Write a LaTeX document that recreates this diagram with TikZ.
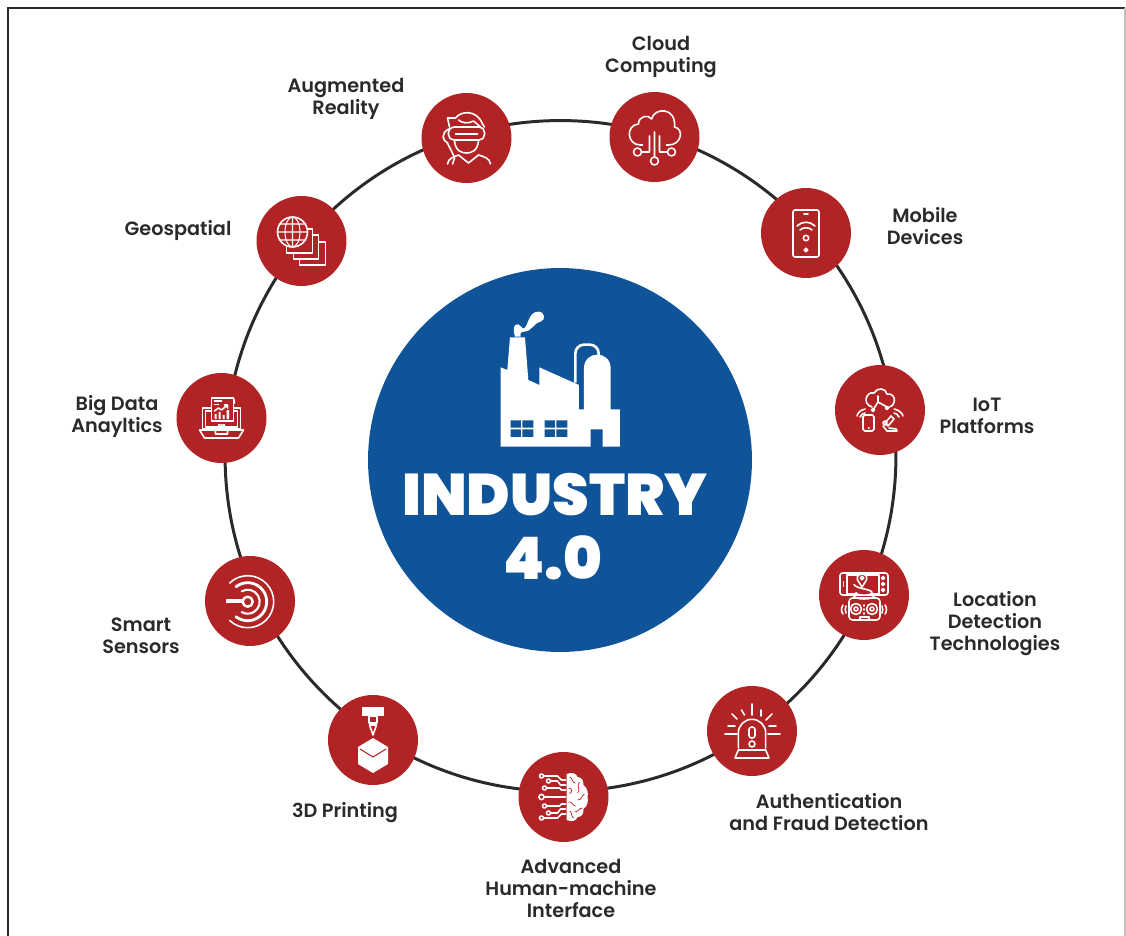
\documentclass[tikz,border=0pt]{standalone}
\usepackage{fontspec}
\setmainfont{Poppins SemiBold}
\newfontfamily\titlefont{Poppins Black}
\definecolor{hubred}{HTML}{B22325}
\definecolor{corebg}{HTML}{0F5398}
\definecolor{inkgray}{HTML}{2B2A2B}
\tikzset{
  hub/.style={circle, fill=hubred, minimum size=1.8cm, inner sep=0pt},
  hublabel/.style={align=center, text=inkgray, font=\fontsize{10.95}{12.5}\selectfont, inner sep=0pt},
  titletext/.style={text=white, font=\titlefont, inner sep=0pt},
  iconline/.style={draw=white, line width=0.9pt, line cap=round, line join=round},
  iconfill/.style={fill=white, draw=none},
  % icons, drawn around the centre of a hub
  cloudicon/.pic={
    \draw[iconline] (-12,8) -- (-14,8) .. controls (-28,8) and (-29,-12) .. (-16,-13)
      .. controls (-16,-21) and (-6,-23) .. (-3,-18) .. controls (0,-30) and (22,-30) .. (20,-10)
      .. controls (30,-8) and (27,8) .. (14,8) -- (12,8);
    \draw[iconline] (0,-5) -- (0,20) (0,24) circle[radius=4];
    \draw[iconline] (-5,-1) -- (-5,15) -- (-13,15) (-17,15) circle[radius=4];
    \draw[iconline] (5,-1) -- (5,15) -- (13,15) (17,15) circle[radius=4];
  },
  vricon/.pic={
    \draw[iconline, rounded corners=3pt] (-18,-11) rectangle (18,2);
    \draw[iconline] (-11,-4) -- (11,-4);
    \draw[iconline] (-12,3) .. controls (-11,13) and (-5,15) .. (0,15) .. controls (5,15) and (11,13) .. (12,3);
    \draw[iconline] (-17,-11) -- (-19,-20) -- (-11,-20) .. controls (-6,-27) and (10,-29) .. (16,-14) -- (18,-11);
    \draw[iconline] (-8,-18) .. controls (-5,-15) and (2,-14) .. (7,-17) -- (14,-11);
    \draw[iconline] (-18,-9) .. controls (-26,-4) and (-24,2) .. (-19,5) .. controls (-17,10) and (-14,14) .. (-12,20) -- (-14,26);
    \draw[iconline] (-19,26) .. controls (-18,20) and (-13,19) .. (-8,17) -- (2,25) -- (12,17)
      .. controls (18,19) and (23,20) .. (24,26);
  },
  phoneicon/.pic={
    \draw[iconline, rounded corners=1.2pt] (-13,-23) rectangle (13,24);
    \draw[iconline] (-2,-19) -- (2,-19);
    \draw[iconline] (-9,-7) .. controls (-4,-12) and (4,-12) .. (9,-7);
    \draw[iconline] (-6,-3) .. controls (-3,-6) and (3,-6) .. (6,-3);
    \draw[iconline] (0,5) circle[radius=2.7] (0,17) circle[radius=1.8];
  },
  ioticon/.pic={
    \draw[iconline] (-8,-3) .. controls (-18,-6) and (-14,-19) .. (-6,-17)
      .. controls (-3,-23) and (6,-22) .. (7,-16) .. controls (17,-17) and (16,-4) .. (9,-3);
    \draw[iconline] (-7,0) -- (-2,-8) -- (7,-3) (-2,-8) -- (-2,-14);
    \draw[iconline] (-7,0) circle[radius=1.6] (7,-2) circle[radius=1.6];
    \draw[iconline, rounded corners=1pt] (-17,5) rectangle (-6,21);
    \draw[iconline] (-11.5,18) -- (-11,18);
    \draw[iconline] (-23,6) .. controls (-22,2) and (-19,0) .. (-15,-1);
    \draw[iconline] (-20,7) .. controls (-19,5) and (-17,3) .. (-15,3);
    \draw[iconline] (23,6) .. controls (22,2) and (18,0) .. (14,-1);
    \draw[iconline] (19,7) .. controls (18,5) and (16,3) .. (14,3);
    \draw[iconline] (8,16) -- (14,9) -- (11,6) -- (5,13) -- (8,16) (9,18) -- (16,19) -- (17,21) -- (7,21) -- (3,16);
    \draw[iconline] (5,13) circle[radius=2];
  },
  locationicon/.pic={
    \draw[iconline, rounded corners=1.5pt] (-24,-22) rectangle (24,0);
    \draw[iconline] (-17,-20) rectangle (15,-1);
    \draw[iconline] (-20.5,-13) -- (-20.5,-9);
    \draw[iconline] (19,-17) circle[radius=1.5] (19,-11) circle[radius=1.5] (19,-5) circle[radius=1.5];
    \draw[iconline, fill=hubred] (-2,-8) ++(-8,-2.5) .. controls (-8,-6) and (8,-6) .. (8,-2.5)
      .. controls (8,1) and (-8,1) .. (-8,-2.5);
    \draw[iconline, fill=hubred] (-2,-8) -- (-6.5,-15) .. controls (-9,-23) and (5,-23) .. (2.5,-15) -- cycle;
    \draw[iconline] (-2,-17) circle[radius=1.8];
    \draw[iconline, rounded corners=2pt] (-15,3) rectangle (16,25);
    \draw[iconline] (-10,0) -- (-10,1) .. controls (-8,5) and (8,5) .. (10,1) -- (10,0);
    \draw[iconline] (-8,14) circle[radius=5.5] (-8,14) circle[radius=2];
    \draw[iconline] (8,14) circle[radius=5.5] (8,14) circle[radius=2];
    \draw[iconline] (0,10) -- (0,11) (0,14) -- (0,15) (0,18) -- (0,19);
    \draw[iconline] (-4,25) -- (-4,22) -- (5,22) -- (5,25);
    \draw[iconline] (-21,10) .. controls (-23,13) and (-23,16) .. (-21,19);
    \draw[iconline] (-18,11) .. controls (-19,13) and (-19,16) .. (-18,18);
    \draw[iconline] (21,10) .. controls (23,13) and (23,16) .. (21,19);
    \draw[iconline] (18,11) .. controls (19,13) and (19,16) .. (18,18);
  },
  alarmicon/.pic={
    \draw[iconline] (-13.7,17) -- (-13.7,2) arc[start angle=180, end angle=360, radius=13.7] -- (13.7,17);
    \draw[iconline] (-13.7,19) -- (13.7,19) -- (17,27) -- (-17,27) -- cycle;
    \draw[iconline, rounded corners=1.5pt] (-3,-4) rectangle (3,7);
    \draw[iconline] (0,13) circle[radius=3];
    \draw[iconline] (0,-27) -- (0,-16) (-10.5,-21) -- (-7.5,-16) (9,-21) -- (9,-15)
      (-20,-17) -- (-15,-12) (20,-17) -- (14,-11) (-24,-5) -- (-17,-5) (17,-5) -- (24,-5)
      (-27,3) -- (-15,3) (16,3) -- (28,3);
  },
  brainicon/.pic={
    \path[iconfill] (3,-23) .. controls (8,-25) and (13,-24) .. (14,-20) .. controls (19,-20) and (20,-15) .. (20,-12)
      .. controls (24,-9) and (25,-4) .. (24,0) .. controls (25,4) and (24,9) .. (20,12)
      .. controls (20,16) and (19,20) .. (14,20) .. controls (13,24) and (8,25) .. (3,23) -- cycle;
    \draw[draw=hubred, line width=0.4pt] (6,-20) .. controls (10,-19) and (8,-14) .. (12,-14)
      (16,-15) .. controls (12,-10) and (18,-8) .. (14,-4) (5,-9) .. controls (9,-9) and (9,-5) .. (6,-3)
      (21,-3) .. controls (17,-1) and (19,3) .. (14,3) (5,5) .. controls (9,4) and (9,9) .. (12,9)
      (19,11) .. controls (15,11) and (15,15) .. (11,15) (6,14) .. controls (9,15) and (7,19) .. (10,21);
    \foreach \s in {1,-1} {
      \draw[iconline] (-19,-21*\s) -- (-6,-21*\s) -- (-2,-17*\s) -- (2,-17*\s);
      \draw[iconline] (-22,-21*\s) circle[radius=2];
      \draw[iconline] (-12.5,-16*\s) -- (-6,-16*\s) -- (-3,-12*\s) -- (2,-12*\s);
      \draw[iconline] (-15,-16*\s) circle[radius=2];
      \draw[iconline] (-16.5,-9*\s) -- (-4,-9*\s) -- (-2,-7*\s) -- (2,-7*\s);
      \draw[iconline] (-19,-9*\s) circle[radius=2];
    }
    \draw[iconline] (-19,0) -- (2,0) (-22,0) circle[radius=2.6];
  },
  printicon/.pic={
    \path[iconfill] (-11,-33) rectangle (11,-24);
    \draw[iconline] (-4,-24) rectangle (4,-17);
    \draw[iconline] (-3.5,-15) -- (3.5,-15) -- (0,-5) -- cycle;
    \path[iconfill] (0,-2) -- (15,7) -- (15,24) -- (0,33) -- (-15,24) -- (-15,7) -- cycle;
    \draw[draw=hubred, line width=0.6pt] (-13,9) -- (0,17) -- (13,9);
  },
  sensoricon/.pic={
    \draw[iconline, line cap=butt, line width=2.2pt] (-24,0) -- (-8,0);
    \draw[iconline, line width=1.4pt] (-2.3,0.7) circle[radius=5];
    \draw[iconline, line width=1.2pt] (-2.3,0.7) ++(-120:12) arc[start angle=-120, end angle=120, radius=12];
    \draw[iconline, line width=1.6pt] (-2.3,0.7) ++(-128:19) arc[start angle=-128, end angle=128, radius=19];
    \draw[iconline] (-2.3,0.7) ++(-134:26) arc[start angle=-134, end angle=134, radius=26];
  },
  reporticon/.pic={
    \draw[iconline] (-19,-10) rectangle (19,11);
    \draw[iconline] (-16,-7) rectangle (16,9);
    \draw[iconline] (-22,12) -- (22,12) -- (17,20) -- (-17,20) -- cycle (-6,12) -- (-6,16) -- (6,16) -- (6,12);
    \draw[iconline, fill=hubred] (-10,-20) rectangle (12,3);
    \draw[iconline] (12,-20) -- (13,-15);
    \draw[iconline] (-7,-17) -- (0,-17) (-7,-13.5) -- (-3,-13.5);
    \draw[iconline] (-7,-7) -- (-3,-10) -- (0,-8) -- (6,-13) (3,-13) -- (6,-13) -- (6,-10);
    \path[iconfill] (-7,-4) rectangle (-5,1) (-3,-6) rectangle (-1,1) (1,-3) rectangle (3,1) (5,-8) rectangle (7.5,1);
    \path[iconfill] (-3.5,6) rectangle (-1.5,8) (-1,6) rectangle (1,8) (1.5,6) rectangle (3.5,8);
  },
  globeicon/.pic={
    \draw[iconline, line width=0.6pt, fill=hubred] (-2,1) rectangle (24,24);
    \draw[iconline, line width=0.6pt, fill=hubred] (-8,-6) rectangle (17,18);
    \draw[iconline, line width=0.6pt, fill=hubred] (-15,-12) rectangle (11,12);
    \draw[iconline, fill=hubred] (-9,-9) circle[radius=15];
    \draw[iconline, line width=0.6pt] (-9,-24) -- (-9,6) (-24,-9) -- (6,-9)
      (-22,-17) -- (4,-17) (-22,-1) -- (4,-1) (-9,-9) ellipse[x radius=7.5, y radius=15];
  },
  factoryicon/.pic={
    % traced at 3x, hence the scale
    \begin{scope}[scale=0.3333]
    \path[iconfill] (302,232) -- (322,240) -- (330,142) -- (375,142) -- (385,270) -- (418,285) -- (418,232)
      -- (537,285) -- (537,358) -- (552,358) -- (552,235) .. controls (552,180) and (632,180) .. (632,235)
      -- (632,358) -- (660,358) -- (660,470) -- (608,470) -- (608,418) -- (572,418) -- (572,470) -- (302,470) -- cycle;
    \path[iconfill] (345,140) .. controls (338,120) and (340,100) .. (355,103) .. controls (365,105) and (365,118) .. (372,115)
      .. controls (385,108) and (385,65) .. (415,65) .. controls (435,65) and (438,90) .. (422,95)
      .. controls (400,100) and (395,125) .. (372,125) .. controls (362,125) and (360,130) .. (362,140) -- cycle;
    \draw[draw=white, line width=1.5pt, rounded corners=5pt] (526,278) -- (526,164) -- (596,164) -- (596,198);
    \foreach \wx in {0,102} {
      \path[fill=corebg] (332+\wx,391) rectangle (363+\wx,413) (367+\wx,391) rectangle (400+\wx,413)
        (332+\wx,418) rectangle (363+\wx,441) (367+\wx,418) rectangle (400+\wx,441);
    }
    \end{scope}
  },
}
\begin{document}
\begin{tikzpicture}[x=0.02cm, y=-0.02cm]
  \useasboundingbox (0,0) rectangle (1126,936);
  \coordinate (framea) at (8,936);
  \coordinate (frameb) at (8,8);
  \coordinate (framec) at (1125,8);
  \coordinate (framed) at (1125,936);
  \draw[draw=inkgray, line width=0.7pt] (framea) -- (frameb) -- (framec);
  \draw[draw=black!25, line width=0.7pt] (framec) -- (framed);

  \node[circle, draw=inkgray, line width=1.7pt, minimum size=13.42cm, inner sep=0pt] (ring) at (560.5,456) {};
  \node[circle, fill=corebg, minimum size=7.68cm, inner sep=0pt] (core) at (560,460) {};

  \node[hub] (cloud) at (654.5,137) {};
  \node[hub] (augmented) at (466.5,138) {};
  \node[hub] (mobile) at (806,233) {};
  \node[hub] (iot) at (880,410) {};
  \node[hub] (location) at (864,595) {};
  \node[hub] (auth) at (752,731) {};
  \node[hub] (hmi) at (563.5,797) {};
  \node[hub] (printing) at (373,740) {};
  \node[hub] (sensors) at (250,601) {};
  \node[hub] (bigdata) at (221.5,418) {};
  \node[hub] (geo) at (301.5,241) {};

  \pic at (cloud.center) {cloudicon};
  \pic at (augmented.center) {vricon};
  \pic at (mobile.center) {phoneicon};
  \pic at (iot.center) {ioticon};
  \pic at (location.center) {locationicon};
  \pic at (auth.center) {alarmicon};
  \pic at (hmi.center) {brainicon};
  \pic at (printing.center) {printicon};
  \pic at (sensors.center) {sensoricon};
  \pic at (bigdata.center) {reporticon};
  \pic at (geo.center) {globeicon};
  \pic at (400,290) {factoryicon};

  \node[hublabel] (cloudtext) at (661,57) {Cloud\\Computing};
  \node[hublabel] (augmentedtext) at (346,99) {Augmented\\Reality};
  \node[hublabel] (mobiletext) at (925,226) {Mobile\\Devices};
  \node[hublabel] (geotext) at (178,230) {Geospatial};
  \node[hublabel] (iottext) at (987,416) {IoT\\Platforms};
  \node[hublabel] (bigdatatext) at (117,416) {Big Data\\Anayltics};
  \node[hublabel] (locationtext) at (995,624) {Location\\Detection\\Technologies};
  \node[hublabel] (sensorstext) at (141,636) {Smart\\Sensors};
  \node[hublabel] (authtext) at (829,812) {Authentication\\and Fraud Detection};
  \node[hublabel] (printingtext) at (345,813) {3D Printing};
  \node[hublabel] (hmitext) at (571,888) {Advanced\\Human-machine\\Interface};

  \node[titletext, font=\titlefont\fontsize{33.4}{34}\selectfont] (title) at (555,495) {INDUSTRY};
  \node[titletext, font=\titlefont\fontsize{33.4}{34}\selectfont] (version) at (553,558) {4.0};
\end{tikzpicture}
\end{document}
